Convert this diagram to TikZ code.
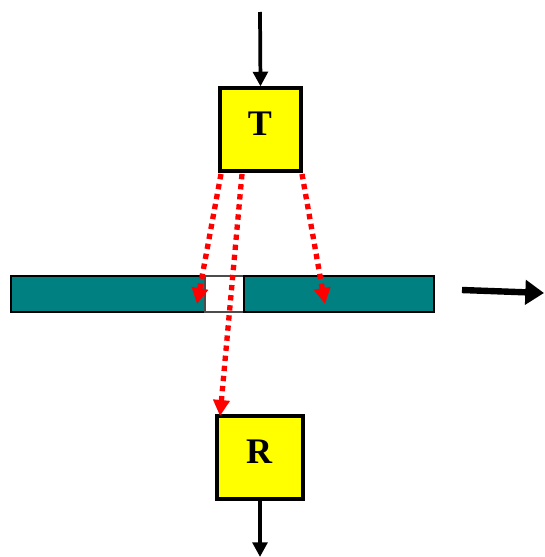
\documentclass[tikz,border=0pt]{standalone}
\usepackage{fontspec}
\setmainfont{Liberation Serif}
\usetikzlibrary{arrows.meta}
\definecolor{teal2}{RGB}{0,128,128}
\definecolor{yel}{RGB}{255,255,0}
\definecolor{redd}{RGB}{255,0,0}
\tikzset{
  box/.style={draw=black, line width=2.4pt, fill=yel, inner sep=0pt},
  lbl/.style={font=\fontsize{27}{29}\selectfont\bfseries, inner sep=0pt},
  barpart/.style={draw=black, line width=0.9pt, fill=teal2, minimum height=27pt, inner sep=0pt},
  gappart/.style={draw=black!70, line width=0.9pt, fill=white, minimum height=27pt, inner sep=0pt},
  flow/.style={line width=2.8pt, -{Triangle[width=11pt,length=11pt]}},
  ray/.style={draw=redd, line width=4pt, dash pattern=on 4pt off 3.6pt, -{Triangle[width=12pt,length=12pt,fill=redd]}},
  bigarrow/.style={line width=4.8pt, -{Triangle[width=18pt,length=14pt]}}
}
\begin{document}
\begin{tikzpicture}[x=0.75pt,y=-0.75pt]
\useasboundingbox (0,0) rectangle (544,557);
% boxes
\node[box, minimum width=60.75pt, minimum height=62.25pt] (T) at (260.5,129.5) {};
\node[box, minimum width=64.5pt, minimum height=62.25pt] (R) at (260,457.5) {};
\node[lbl] (Tl) at (260,124) {T};
\node[lbl] (Rl) at (259,452) {R};
% bar
\node[barpart, minimum width=145.5pt] (L) at (108,294) {};
\node[gappart, minimum width=29.25pt] (G) at (224.5,294) {};
\node[barpart, minimum width=142.5pt] (Rb) at (339,294) {};
% top and bottom connectors
\coordinate (top) at (260,12);
\coordinate (bot) at (260,557);
\draw[flow] (top) -- (T.north);
\draw[flow] (R.south) -- (bot);
% red rays
\coordinate (s1) at (221,174);
\coordinate (s2) at (242,174);
\coordinate (s3) at (302,174);
\coordinate (e1) at (197,304);
\coordinate (e3) at (325,304);
\coordinate (e2) at (220,416);
\draw[ray] (s1) -- (e1);
\draw[ray] (s3) -- (e3);
\draw[ray] (s2) -- (e2);
% motion arrow
\coordinate (m1) at (462,290);
\coordinate (m2) at (544,293);
\draw[bigarrow] (m1) -- (m2);
\end{tikzpicture}
\end{document}
